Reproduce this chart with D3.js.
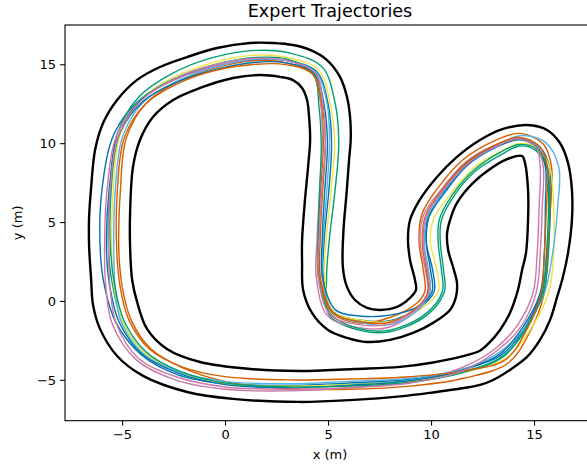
<!DOCTYPE html>
<html>
<head>
<meta charset="utf-8">
<script src="https://cdn.jsdelivr.net/npm/d3@7"></script>
<style>
  body { margin: 0; background: #fff; }
  text { font-family: "DejaVu Sans", sans-serif; fill: #000; }
</style>
</head>
<body>
<div id="chart"></div>
<script>
// track boundaries (metres)
var outerTrack = [[-6.50,1.33],[-6.60,3.49],[-6.60,5.32],[-6.50,7.22],[-6.31,9.57],[-5.92,11.28],[-5.24,12.74],[-4.27,14.01],[-3.16,14.83],[-1.84,15.46],[-0.39,16.03],[1.21,16.35],[2.33,16.35],[3.30,16.22],[4.13,15.91],[4.95,15.27],[5.58,14.20],[5.92,12.93],[6.07,11.66],[6.10,10.20],[6.02,8.94],[5.90,6.84],[5.75,4.50],[5.72,2.15],[5.92,0.89],[6.31,0.06],[6.89,-0.44],[7.52,-0.57],[8.35,-0.38],[8.98,0.19],[9.27,0.70],[9.22,1.33],[8.98,2.60],[8.88,3.87],[8.98,5.13],[9.40,6.30],[10.29,7.86],[11.26,9.13],[12.38,10.20],[13.50,10.90],[14.66,11.15],[15.63,10.84],[16.26,10.01],[16.65,8.75],[16.84,7.03],[16.84,5.13],[16.65,3.04],[16.40,1.50],[16.12,0.25],[15.78,-1.20],[15.29,-2.47],[14.66,-3.55],[13.83,-4.37],[13.01,-5.01],[12.38,-5.32],[11.20,-5.60],[10.10,-5.80],[8.50,-6.05],[6.26,-6.27],[3.64,-6.40],[0.39,-6.21],[-1.84,-5.77],[-3.98,-4.75],[-5.24,-3.49],[-6.07,-1.77],[-6.41,-0.25]];

var innerTrack = [[-4.51,1.33],[-4.61,3.42],[-4.61,5.58],[-4.47,8.49],[-4.13,10.20],[-3.50,11.66],[-2.52,12.74],[-1.21,13.50],[0.39,14.13],[1.70,14.32],[2.67,14.20],[3.30,14.00],[3.74,13.50],[3.98,12.74],[4.08,11.66],[4.13,10.20],[4.03,8.49],[3.88,6.40],[3.74,3.87],[3.74,2.41],[3.79,0.70],[4.22,-0.76],[5.00,-1.84],[5.92,-2.34],[6.89,-2.60],[8.01,-2.47],[9.13,-2.03],[10.10,-1.39],[10.92,-0.57],[11.21,0.25],[11.26,1.14],[11.07,2.15],[10.83,3.23],[10.78,4.31],[10.97,5.32],[11.26,6.21],[12.04,7.48],[13.01,8.49],[13.83,9.06],[14.42,9.19],[14.56,8.75],[14.71,7.03],[14.71,5.13],[14.61,3.04],[14.42,1.96],[14.22,0.70],[13.83,-0.76],[13.35,-1.84],[12.72,-2.79],[12.35,-3.17],[11.55,-3.50],[10.10,-3.90],[8.50,-4.18],[6.26,-4.31],[3.64,-4.44],[1.21,-4.31],[-1.21,-3.87],[-2.82,-3.04],[-3.79,-1.77],[-4.27,-0.06]];

// expert laps
var traj0 = [[-5.29,-1.39],[-5.83,0.8],[-6.05,3],[-5.98,7],[-5.37,10.64],[-4.09,12.82],[-2.42,14.05],[-0.5,14.87],[1.5,15.28],[3.0,15.23],[4.44,14.54],[5.0,12.5],[5.17,10],[5.04,7],[4.82,4],[4.78,1.5],[5.27,-0.68],[6.5,-1.2],[8.0,-1.25],[9.44,-0.42],[10.15,0.6],[10.07,2.0],[9.77,3.7],[9.86,5.34],[10.69,7.1],[11.73,8.71],[13.14,9.84],[14.3,10.32],[15.27,9.77],[15.75,8.5],[15.8,6],[15.65,3],[15.35,0.5],[14.5,-1.8],[13.39,-3.45],[11.48,-4.35],[9,-4.95],[6,-5.2],[3,-5.35],[0,-5.25],[-2.28,-4.68],[-4.04,-3.44]];
var traj1 = [[-5.0,-1.3],[-5.43,0.8],[-5.65,3],[-5.58,7],[-5.24,10.57],[-4.18,12.94],[-2.58,14.41],[-0.61,15.42],[1.5,15.88],[3.15,15.71],[4.72,14.82],[5.35,12.5],[5.52,10],[5.34,7],[5.07,4],[4.93,1.5],[5.06,-0.89],[6.5,-1.85],[8.0,-1.95],[9.8,-0.9],[10.65,0.6],[10.6,2.0],[10.45,3.7],[10.5,5.1],[11.14,6.71],[12.12,8.19],[13.34,9.22],[14.3,9.82],[15.06,9.56],[15.6,8.5],[15.7,6],[15.6,3],[15.4,0.5],[14.58,-1.86],[13.45,-3.53],[11.51,-4.5],[9,-5.05],[6,-5.3],[3,-5.45],[0,-5.25],[-2.2,-4.5],[-3.9,-3.3]];
var traj2 = [[-4.57,-1.17],[-4.98,0.8],[-5.15,3],[-5.08,7],[-4.79,10.34],[-3.85,12.5],[-2.34,13.87],[-0.48,14.77],[1.5,15.23],[2.96,15.09],[4.26,14.36],[4.65,12.5],[4.77,10],[4.64,7],[4.52,4],[4.58,1.5],[5.2,-0.75],[6.5,-1.4],[8.0,-1.05],[9.3,-0.15],[9.7,0.6],[9.62,2.0],[9.42,3.7],[9.55,5.48],[10.43,7.33],[11.55,8.95],[13.05,10.13],[14.3,10.62],[15.45,9.95],[15.85,8.5],[15.8,6],[15.65,3],[15.5,0.5],[14.78,-2.01],[13.75,-3.93],[11.59,-4.9],[9,-5.4],[6,-5.6],[3,-5.55],[0,-5.1],[-2.08,-4.23],[-3.62,-3.02]];
var traj3 = [[-5.48,-1.45],[-5.78,0.8],[-5.85,3],[-5.73,7],[-5.24,10.57],[-4.06,12.78],[-2.42,14.05],[-0.5,14.87],[1.5,15.33],[3.0,15.23],[4.33,14.43],[4.65,12.5],[4.72,10],[4.59,7],[4.47,4],[4.43,1.5],[4.99,-0.96],[6.5,-1.7],[8.0,-1.65],[9.44,-0.42],[9.85,0.6],[9.72,2.0],[9.47,3.7],[9.64,5.44],[10.58,7.2],[11.67,8.79],[13.13,9.89],[14.3,10.27],[15.13,9.63],[15.3,8.5],[15.25,6],[15.15,3],[14.95,0.5],[14.18,-1.56],[13.09,-3.05],[11.46,-4.25],[9,-5.1],[6,-5.5],[3,-5.7],[0,-5.6],[-2.42,-5.0],[-4.32,-3.72]];
var traj4 = [[-5.0,-1.3],[-5.38,0.8],[-5.5,3],[-5.43,7],[-5.1,10.5],[-4.06,12.78],[-2.48,14.18],[-0.55,15.12],[1.5,15.58],[3.06,15.42],[4.54,14.64],[5.1,12.5],[5.32,10],[5.14,7],[4.92,4],[4.83,1.5],[5.27,-0.68],[6.5,-1.2],[8.0,-1.3],[9.5,-0.5],[10.35,0.6],[10.27,2.0],[9.97,3.7],[10.13,5.22],[10.99,6.84],[12.0,8.35],[13.28,9.41],[14.3,9.97],[15.17,9.67],[15.75,8.5],[15.95,6],[15.95,3],[15.7,0.5],[14.74,-1.98],[13.57,-3.69],[11.52,-4.55],[9,-5.1],[6,-5.3],[3,-5.4],[0,-5.25],[-2.2,-4.5],[-3.9,-3.3]];
var traj5 = [[-5.05,-1.32],[-5.33,0.8],[-5.4,3],[-5.33,7],[-4.97,10.43],[-3.94,12.62],[-2.36,13.91],[-0.49,14.82],[1.5,15.33],[3.0,15.23],[4.4,14.5],[4.95,12.5],[5.07,10],[4.94,7],[4.77,4],[4.73,1.5],[5.24,-0.72],[6.5,-1.35],[8.0,-1.5],[9.47,-0.46],[9.95,0.6],[9.87,2.0],[9.67,3.7],[9.82,5.36],[10.73,7.07],[11.79,8.63],[13.16,9.79],[14.3,10.47],[15.55,10.05],[16.2,8.5],[16.15,6],[15.9,3],[15.5,0.5],[14.5,-1.8],[13.27,-3.29],[11.48,-4.35],[9,-4.9],[6,-5.1],[3,-5.25],[0,-5.1],[-2.2,-4.5],[-3.97,-3.37]];
var traj6 = [[-5.14,-1.35],[-5.58,0.8],[-5.75,3],[-5.63,7],[-5.15,10.52],[-3.97,12.66],[-2.34,13.87],[-0.46,14.67],[1.5,15.13],[2.96,15.09],[4.33,14.43],[4.8,12.5],[4.97,10],[4.84,7],[4.72,4],[4.73,1.5],[5.38,-0.58],[6.5,-0.95],[8.0,-0.9],[9.38,-0.34],[10.05,0.6],[9.97,2.0],[9.77,3.7],[9.9,5.32],[10.76,7.03],[11.79,8.63],[13.17,9.75],[14.3,10.22],[15.2,9.7],[15.55,8.5],[15.55,6],[15.5,3],[15.3,0.5],[14.42,-1.74],[13.33,-3.37],[11.49,-4.4],[9,-5.05],[6,-5.35],[3,-5.5],[0,-5.3],[-2.24,-4.59],[-4.0,-3.4]];
var traj7 = [[-4.9,-1.27],[-5.33,0.8],[-5.55,3],[-5.53,7],[-5.15,10.52],[-4.06,12.78],[-2.44,14.09],[-0.52,14.97],[1.5,15.43],[3.03,15.33],[4.3,14.4],[4.55,12.5],[4.67,10],[4.59,7],[4.52,4],[4.53,1.5],[5.13,-0.82],[6.5,-1.75],[8.0,-1.85],[9.74,-0.82],[10.55,0.6],[10.5,2.0],[10.35,3.7],[10.4,5.15],[11.06,6.77],[12.06,8.27],[13.29,9.37],[14.3,9.92],[15.13,9.63],[15.65,8.5],[15.75,6],[15.7,3],[15.45,0.5],[14.54,-1.83],[13.48,-3.57],[11.52,-4.55],[9,-5.15],[6,-5.4],[3,-5.45],[0,-5.2],[-2.18,-4.46],[-3.83,-3.23]];
var traj8 = [[-4.67,-1.2],[-5.08,0.8],[-5.25,3],[-5.23,7],[-4.88,10.39],[-3.85,12.5],[-2.3,13.78],[-0.45,14.62],[1.5,15.0],[2.94,14.98],[4.26,14.36],[4.7,12.5],[4.87,10],[4.74,7],[4.62,4],[4.63,1.5],[5.24,-0.72],[6.5,-1.3],[8.0,-1.35],[9.38,-0.34],[9.85,0.6],[9.77,2.0],[9.57,3.7],[9.73,5.4],[10.61,7.16],[11.7,8.75],[13.13,9.89],[14.3,10.37],[15.27,9.77],[15.65,8.5],[15.6,6],[15.5,3],[15.35,0.5],[14.62,-1.89],[13.6,-3.73],[11.5,-4.45],[9,-4.8],[6,-4.95],[3,-5.0],[0,-4.8],[-2.06,-4.19],[-3.66,-3.06]];
var traj9 = [[-5.29,-1.39],[-5.58,0.8],[-5.65,3],[-5.58,7],[-5.15,10.52],[-4.03,12.74],[-2.44,14.09],[-0.52,14.97],[1.5,15.38],[3.0,15.23],[4.37,14.47],[4.75,12.5],[4.87,10],[4.69,7],[4.57,4],[4.53,1.5],[5.1,-0.86],[6.5,-1.5],[8.0,-1.45],[9.41,-0.38],[9.9,0.6],[9.82,2.0],[9.62,3.7],[9.77,5.38],[10.65,7.13],[11.76,8.67],[13.16,9.79],[14.3,10.27],[15.17,9.67],[15.45,8.5],[15.4,6],[15.3,3],[15.1,0.5],[14.34,-1.68],[13.18,-3.17],[11.5,-4.45],[9,-5.2],[6,-5.5],[3,-5.6],[0,-5.45],[-2.34,-4.82],[-4.22,-3.62]];

var trajectories = [traj0, traj1, traj2, traj3, traj4, traj5, traj6, traj7, traj8, traj9];
var trajColors = ["#0072B2", "#009E73", "#D55E00", "#CC79A7", "#F0E442", "#56B4E9", "#0072B2", "#009E73", "#D55E00", "#CC79A7"];

var xTicks = [-5, 0, 5, 10, 15];
var yTicks = [-5, 0, 5, 10, 15];

var svgWidth = 587;
var svgHeight = 469;

var plot = { left: 65, right: 595, top: 25, bottom: 420.7 };

var svg = d3.select("#chart")
  .append("svg")
  .attr("width", svgWidth)
  .attr("height", svgHeight);

// scales
var x = d3.scaleLinear()
  .domain([-7.77, 17.96])
  .range([plot.left, plot.right]);

var y = d3.scaleLinear()
  .domain([-7.59, 17.49])
  .range([plot.bottom, plot.top]);

var line = d3.line()
  .x(d => x(d[0]))
  .y(d => y(d[1]))
  .curve(d3.curveCatmullRomClosed.alpha(0.5));

var chartGroup = svg.append("g");

// trajectories
chartGroup.selectAll("path.traj")
  .data(trajectories)
  .enter()
  .append("path")
  .attr("class", "traj")
  .attr("d", line)
  .attr("fill", "none")
  .attr("stroke", (d, i) => trajColors[i])
  .attr("stroke-width", 1.4);

// track walls
chartGroup.selectAll("path.wall")
  .data([outerTrack, innerTrack])
  .enter()
  .append("path")
  .attr("class", "wall")
  .attr("d", line)
  .attr("fill", "none")
  .attr("stroke", "#000")
  .attr("stroke-width", 2.4);

// axes
var bottomAxis = d3.axisBottom(x)
  .tickValues(xTicks)
  .tickSize(4.9)
  .tickPadding(4)
  .tickFormat(d => d < 0 ? "\u2212" + Math.abs(d) : d);

var leftAxis = d3.axisLeft(y)
  .tickValues(yTicks)
  .tickSize(4.9)
  .tickPadding(4)
  .tickFormat(d => d < 0 ? "\u2212" + Math.abs(d) : d);

var gx = svg.append("g")
  .attr("transform", `translate(0, ${plot.bottom})`)
  .call(bottomAxis);

var gy = svg.append("g")
  .attr("transform", `translate(${plot.left}, 0)`)
  .call(leftAxis);

[gx, gy].forEach(function(g) {
  g.select(".domain").remove();
  g.selectAll("line").attr("stroke", "#000").attr("stroke-width", 1.1);
  g.selectAll("text")
    .attr("fill", "#000")
    .style("font-size", "13px")
    .style("font-family", "DejaVu Sans");
});

// spines
svg.append("rect")
  .attr("x", plot.left)
  .attr("y", plot.top)
  .attr("width", plot.right - plot.left)
  .attr("height", plot.bottom - plot.top)
  .attr("fill", "none")
  .attr("stroke", "#000")
  .attr("stroke-width", 1.1);

// labels
svg.append("text")
  .attr("x", (plot.left + plot.right) / 2)
  .attr("y", 17)
  .attr("text-anchor", "middle")
  .style("font-size", "17.6px")
  .text("Expert Trajectories");

svg.append("text")
  .attr("x", (plot.left + plot.right) / 2)
  .attr("y", 459)
  .attr("text-anchor", "middle")
  .style("font-size", "13px")
  .text("x (m)");

svg.append("text")
  .attr("transform", `translate(22, ${(plot.top + plot.bottom) / 2}) rotate(-90)`)
  .attr("text-anchor", "middle")
  .style("font-size", "13px")
  .text("y (m)");
</script>
</body>
</html>
